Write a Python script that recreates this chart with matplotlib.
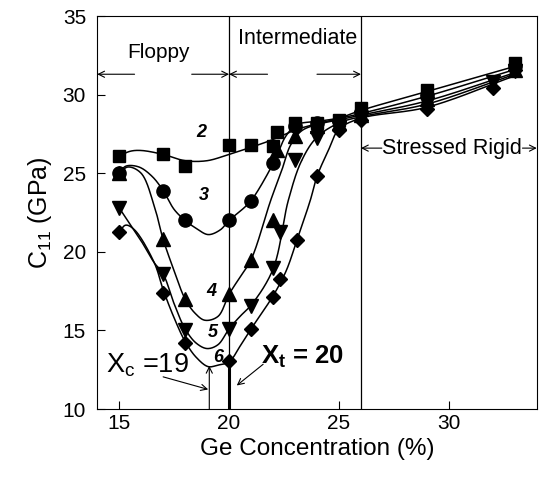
import numpy as np
import matplotlib
matplotlib.use("Agg")
import matplotlib.pyplot as plt

plt.rcParams['font.family'] = ['Liberation Sans', 'DejaVu Sans']
plt.rcParams['mathtext.fontset'] = 'custom'
plt.rcParams['mathtext.rm'] = 'Liberation Sans'
plt.rcParams['mathtext.it'] = 'Liberation Sans:italic'
plt.rcParams['mathtext.bf'] = 'Liberation Sans:bold'

# measured points (Ge %, C11 GPa)
x2 = [15, 17, 18, 20, 21, 22, 22.2, 23, 24, 25, 26, 29, 33]
y2 = [26.1, 26.2, 25.45, 26.8, 26.8, 26.75, 27.6, 28.2, 28.2, 28.4, 29.15, 30.3, 32.0]
x3 = [15, 17, 18, 20, 21, 22, 23, 24, 25, 26, 29, 33]
y3 = [25.0, 23.9, 22.0, 22.0, 23.25, 25.65, 28.0, 28.2, 28.3, 28.9, 30.0, 31.8]
x4 = [15, 17, 18, 20, 21, 22, 22.2, 23, 24, 25, 26, 29, 33]
y4 = [25.0, 20.8, 17.0, 17.3, 19.5, 22.05, 26.5, 27.4, 28.0, 28.2, 28.7, 29.7, 31.6]
x5 = [15, 17, 18, 20, 21, 22, 22.3, 23, 24, 25, 26, 29, 32, 33]
y5 = [22.8, 18.6, 15.0, 15.1, 16.55, 18.95, 21.25, 25.85, 27.25, 27.9, 28.5, 29.4, 30.8, 31.5]
x6 = [15, 17, 18, 20, 21, 22, 22.3, 23.1, 24, 25, 26, 29, 32, 33]
y6 = [21.25, 17.4, 14.2, 13.05, 15.1, 17.15, 18.3, 20.75, 24.8, 27.75, 28.4, 29.1, 30.4, 31.6]

# curve nodes
cx2 = [15, 15.5, 16, 17, 18, 19, 20, 21, 22, 23, 24, 25, 26, 29, 33]
cy2 = [26.1, 26.4, 26.45, 26.2, 25.8, 25.8, 26.2, 26.65, 27.15, 27.75, 28.15, 28.5, 29.0, 30.2, 31.8]
cx3 = [15, 15.3, 15.9, 16.5, 17, 17.5, 18, 18.5, 19.05, 19.6, 20, 20.6, 21, 22, 22.6, 23.1, 24, 25, 26, 29, 33]
cy3 = [25.0, 25.45, 25.4, 24.8, 23.9, 22.7, 22.0, 21.5, 21.1, 21.4, 22.0, 22.7, 23.25, 25.6, 27.4, 28.1, 28.3, 28.5, 28.8, 29.9, 31.6]
cx4 = [15, 15.4, 16, 16.6, 17, 17.5, 18, 18.45, 18.9, 19.5, 20, 20.5, 21, 21.9, 22.4, 22.8, 23.3, 24, 25, 26, 29, 33]
cy4 = [25.0, 25.4, 25.0, 22.9, 20.8, 18.8, 17.0, 16.1, 15.65, 15.9, 17.3, 18.4, 19.5, 23.3, 25.2, 26.8, 27.7, 28.1, 28.4, 28.7, 29.6, 31.4]
cx5 = [15, 16, 16.6, 17, 17.5, 18, 18.5, 19, 19.5, 20, 20.5, 21, 22, 22.7, 23.3, 24, 25, 26, 29, 33]
cy5 = [22.8, 20.7, 19.3, 18.6, 16.7, 15.1, 14.2, 13.85, 14.1, 15.1, 15.9, 16.6, 18.9, 23.3, 25.8, 27.3, 28.2, 28.6, 29.4, 31.3]
cx6 = [15, 15.3, 15.7, 16.6, 17, 17.5, 18, 18.5, 19.05, 19.5, 20, 20.5, 21, 22, 22.6, 23.1, 23.7, 24, 24.5, 25, 26, 29, 33]
cy6 = [21.3, 21.7, 21.4, 19.3, 17.6, 15.8, 14.3, 13.3, 12.7, 12.8, 13.0, 14.0, 15.1, 17.2, 18.8, 20.8, 23.3, 24.8, 26.4, 27.8, 28.5, 29.2, 31.2]


def smooth(xs, ys, n=25):
    # centripetal catmull-rom through the nodes
    P = np.column_stack([np.asarray(xs) * 21.9, np.asarray(ys) * 15.7])
    P = np.vstack([2 * P[0] - P[1], P, 2 * P[-1] - P[-2]])
    out = []
    for i in range(1, len(P) - 2):
        p0, p1, p2, p3 = P[i - 1:i + 3]
        t0 = 0.0
        t1 = t0 + np.linalg.norm(p1 - p0) ** 0.5
        t2 = t1 + np.linalg.norm(p2 - p1) ** 0.5
        t3 = t2 + np.linalg.norm(p3 - p2) ** 0.5
        t = np.linspace(t1, t2, n)[:, None]
        A1 = (t1 - t) / (t1 - t0) * p0 + (t - t0) / (t1 - t0) * p1
        A2 = (t2 - t) / (t2 - t1) * p1 + (t - t1) / (t2 - t1) * p2
        A3 = (t3 - t) / (t3 - t2) * p2 + (t - t2) / (t3 - t2) * p3
        B1 = (t2 - t) / (t2 - t0) * A1 + (t - t0) / (t2 - t0) * A2
        B2 = (t3 - t) / (t3 - t1) * A2 + (t - t1) / (t3 - t1) * A3
        out.append((t2 - t) / (t2 - t1) * B1 + (t - t1) / (t2 - t1) * B2)
    C = np.vstack(out)
    return C[:, 0] / 21.9, C[:, 1] / 15.7


fig, ax = plt.subplots(figsize=(5.4, 4.87), dpi=100)
fig.subplots_adjust(left=0.18, right=0.994, bottom=0.16, top=0.967)

for cx, cy in [(cx2, cy2), (cx3, cy3), (cx4, cy4), (cx5, cy5), (cx6, cy6)]:
    sx, sy = smooth(cx, cy)
    ax.plot(sx, sy, color='black', lw=1.1, zorder=2)

ax.plot(x2, y2, 's', color='black', ms=9, zorder=3)
ax.plot(x3, y3, 'o', color='black', ms=9.5, zorder=3)
ax.plot(x4, y4, '^', color='black', ms=9.5, zorder=3)
ax.plot(x5, y5, 'v', color='black', ms=9.5, zorder=3)
ax.plot(x6, y6, 'D', color='black', ms=7.5, zorder=3)

# phase boundaries
ax.axvline(20, color='black', lw=0.9, zorder=1)
ax.axvline(26, color='black', lw=0.9, zorder=1)
ax.plot([20, 20], [10, 13.0], color='black', lw=2.2, zorder=2)

arr = dict(arrowstyle='->', color='black', lw=0.8, shrinkA=0, shrinkB=0, mutation_scale=11)
ax.annotate('', xy=(14, 31.3), xytext=(15.7, 31.3), arrowprops=arr)
ax.annotate('', xy=(20, 31.3), xytext=(18.3, 31.3), arrowprops=arr)
ax.annotate('', xy=(20, 31.3), xytext=(21.75, 31.3), arrowprops=arr)
ax.annotate('', xy=(26, 31.3), xytext=(24.0, 31.3), arrowprops=arr)
ax.annotate('', xy=(26, 26.6), xytext=(26.95, 26.6), arrowprops=arr)
ax.annotate('', xy=(34, 26.6), xytext=(33.35, 26.6), arrowprops=arr)

ax.text(16.8, 32.7, 'Floppy', fontsize=15, ha='center', va='center')
ax.text(23.1, 33.6, 'Intermediate', fontsize=15.5, ha='center', va='center')
ax.text(30.15, 26.6, 'Stressed Rigid', fontsize=15.5, ha='center', va='center')

# curve labels
for lab, lx, ly in [('2', 18.75, 27.6), ('3', 18.85, 23.6), ('4', 19.2, 17.5),
                    ('5', 19.28, 14.9), ('6', 19.5, 13.25)]:
    ax.text(lx, ly, lab, fontsize=13, fontweight='bold', fontstyle='italic',
            ha='center', va='center')

# Xc and Xt markers
ax.annotate('', xy=(19.1, 12.75), xytext=(19.1, 10), arrowprops=arr)
ax.text(14.4, 12.35, r'$\mathregular{X_c}$ =19', fontsize=19.5, ha='left', va='baseline')
ax.annotate('', xy=(19.05, 11.25), xytext=(17.0, 12.05), arrowprops=arr)
ax.text(21.45, 12.9, r'$\mathbf{X_t}$ = 20', fontsize=18.5, fontweight='bold',
        ha='left', va='baseline')
ax.annotate('', xy=(20.35, 11.5), xytext=(21.55, 12.85), arrowprops=arr)

ax.set_xlim(14, 34)
ax.set_ylim(10, 35)
ax.set_xticks([15, 20, 25, 30])
ax.set_yticks([10, 15, 20, 25, 30, 35])
ax.tick_params(direction='in', length=6, width=0.8, labelsize=15)
ax.tick_params(axis='y', pad=8)
ax.set_xlabel('Ge Concentration (%)', fontsize=17.5)
ax.set_ylabel(r'$\mathregular{C_{11}}$ (GPa)', fontsize=18, labelpad=6)

plt.savefig('out.png', dpi=100)
